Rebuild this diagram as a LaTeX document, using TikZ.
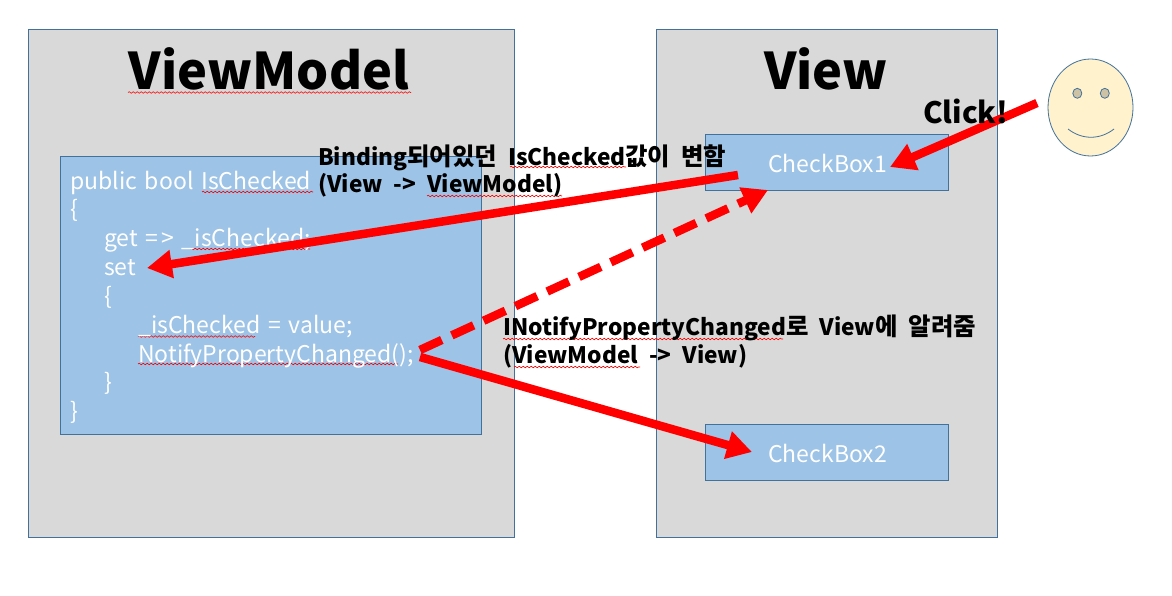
\documentclass[tikz,border=0pt]{standalone}
\usepackage{fontspec}
\setmainfont{Noto Sans CJK KR}
\newfontfamily\codefont[WordSpace=1.5]{Noto Sans CJK KR}
\newcommand{\ko}[1]{{\fontsize{24.4}{24.4}\selectfont #1}}
\usetikzlibrary{arrows.meta,decorations.pathmorphing}
\definecolor{panel}{HTML}{D9D9D9}
\definecolor{edge}{HTML}{41719C}
\definecolor{boxblue}{HTML}{9DC3E6}
\definecolor{facefill}{HTML}{FFF2CC}
\definecolor{eyefill}{HTML}{CDC2A3}
\tikzset{
  panelbox/.style={draw=edge,fill=panel,line width=0.9pt},
  bluebox/.style={draw=edge,fill=boxblue,line width=0.9pt},
  title/.style={anchor=base,font=\fontsize{50.5}{50.5}\selectfont\bfseries,text=black,inner sep=0pt},
  code/.style={anchor=base west,font=\codefont\fontsize{23}{23}\selectfont,text=white,inner sep=0pt},
  note/.style={anchor=base west,font=\fontsize{22.7}{22.7}\selectfont\bfseries,execute at begin node={\spaceskip=11pt\relax},text=black,inner sep=0pt},
  redarrow/.style={draw=red,line width=8.5pt,-{Triangle[length=25pt,width=27pt]}},
  squiggle/.style={draw=red,line width=0.6pt,decorate,decoration={snake,amplitude=0.8pt,segment length=4pt}},
}
\begin{document}
\begin{tikzpicture}[x=1pt,y=-1pt]
\useasboundingbox (0,0) rectangle (1172,596);
\fill[white] (0,0) rectangle (1172,596);
\draw[panelbox] (28.5,29.5) rectangle (514.5,537.5);
\draw[panelbox] (656.5,29.5) rectangle (997.5,537.5);
\draw[bluebox] (60.5,156.5) rectangle (481.5,434.5);
\draw[bluebox] (705.5,134.5) rectangle (948.5,190.5);
\draw[bluebox] (705.5,424.5) rectangle (948.5,480.5);
% squiggles
\draw[squiggle] (128,92.5) -- (411,92.5);
\draw[squiggle] (202,192) -- (313,192);
\draw[squiggle] (190,249) -- (310,249);
\draw[squiggle] (138,336.5) -- (255,336.5);
\draw[squiggle] (138,364) -- (398,364);
\draw[squiggle] (510,167) -- (626,167);
\draw[squiggle] (427,196) -- (562,196);
\draw[squiggle] (503,339) -- (783,339);
\draw[squiggle] (514,367) -- (640,367);
\node[title] (tvm) at (269,90) {ViewModel};
\node[title] (tv) at (826,90) {View};
\node[code] (c1) at (70,189.5) {public bool IsChecked};
\node[code] (c2) at (70,218) {\{};
\node[code] (c3) at (104,246.5) {get =\kern3pt> \_isChecked;};
\node[code] (c4) at (104,275.5) {set};
\node[code] (c5) at (104,304) {\{};
\node[code] (c6) at (138,333.5) {\_isChecked = value;};
\node[code] (c7) at (138,362) {NotifyPropertyChanged();};
\node[code] (c8) at (104,390.5) {\}};
\node[code] (c9) at (70,419.5) {\}};
\node[code] (cb1) at (768,172.5) {CheckBox1};
\node[code] (cb2) at (768,462.5) {CheckBox2};
% face
\draw[draw=edge,fill=facefill,line width=0.8pt] (1090.5,107.5) ellipse [x radius=42.5,y radius=48.5];
\draw[draw=edge,fill=eyefill,line width=0.8pt] (1077.3,93.3) ellipse [x radius=4.5,y radius=5];
\draw[draw=edge,fill=eyefill,line width=0.8pt] (1104.8,93.3) ellipse [x radius=4.5,y radius=5];
\draw[draw=edge,line width=0.8pt] (1068,129) .. controls (1082,140) and (1100,140) .. (1114,129);
% arrows
\coordinate (a1s) at (738,175); \coordinate (a1e) at (147,268);
\coordinate (a2s) at (420,350); \coordinate (a2e) at (768,190);
\coordinate (a3s) at (420,357); \coordinate (a3e) at (752,452);
\coordinate (a4s) at (1037,103); \coordinate (a4e) at (890,167);
\draw[redarrow] (a1s) -- (a1e);
\draw[redarrow,dash pattern=on 24pt off 11pt] (a2s) -- (a2e);
\draw[redarrow] (a3s) -- (a3e);
\draw[redarrow] (a4s) -- (a4e);
% labels
\node[title,font=\fontsize{29.5}{29.5}\selectfont\bfseries,anchor=base west] (click) at (923,124) {Click!};
\node[note] (n1) at (318,166) {Binding\ko{되어있던} IsChecked\ko{값이 변함}};
\node[note] (n2) at (318,193) {(View -> ViewModel)};
\node[note] (n3) at (503,335) {INotifyPropertyChanged\ko{로} View\ko{에 알려줌}};
\node[note] (n4) at (503,363) {(ViewModel -> View)};
\end{tikzpicture}
\end{document}
